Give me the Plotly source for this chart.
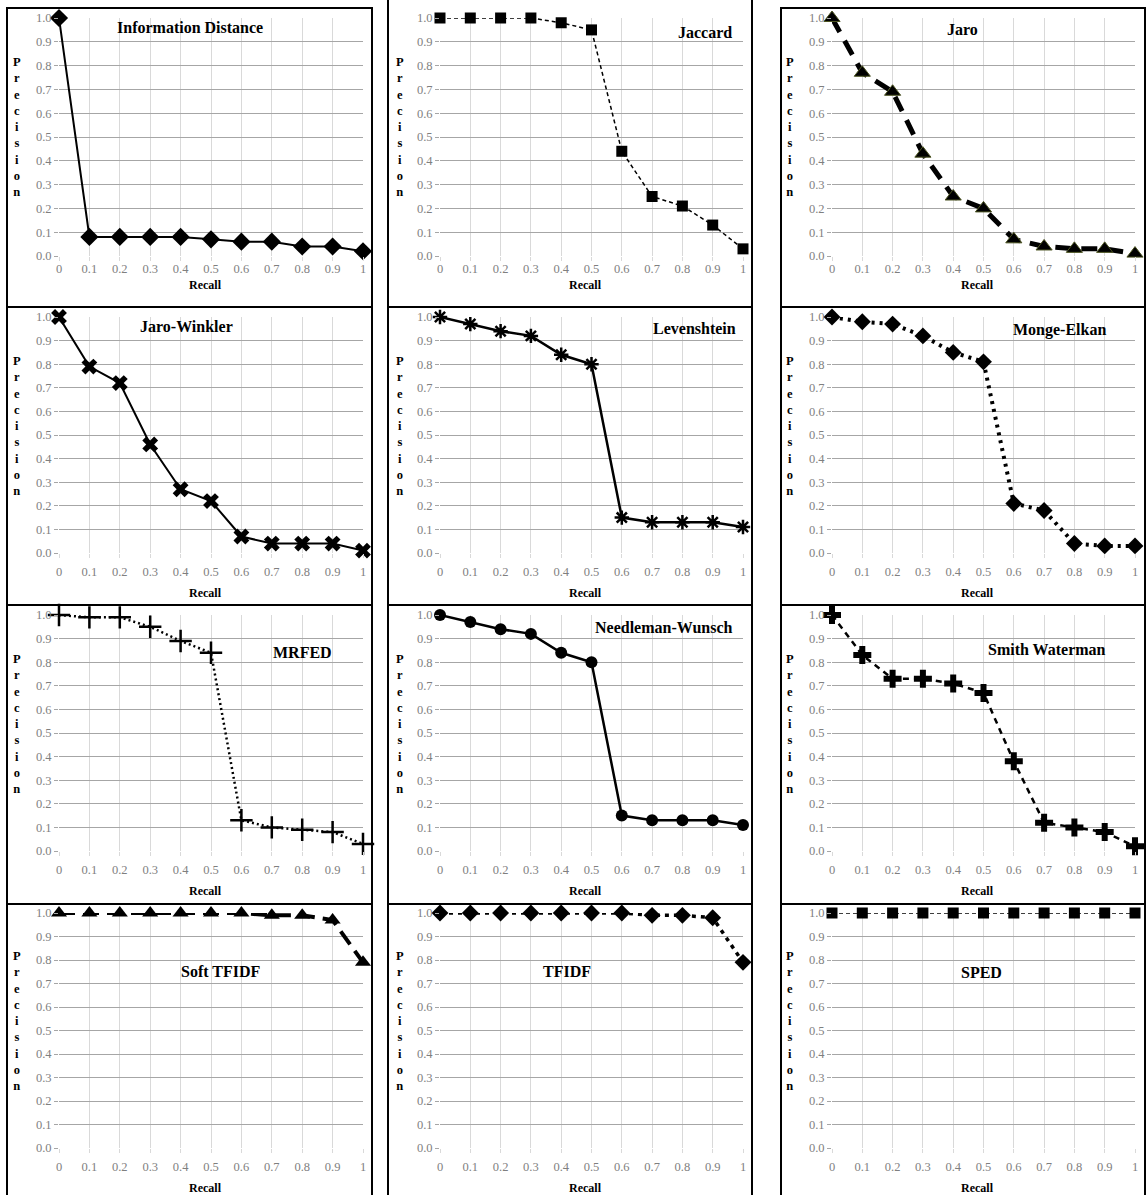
import plotly.graph_objects as go

# ---------------- data ----------------
recall = [0, 0.1, 0.2, 0.3, 0.4, 0.5, 0.6, 0.7, 0.8, 0.9, 1.0]
recall_labels = ["0", "0.1", "0.2", "0.3", "0.4", "0.5", "0.6", "0.7", "0.8", "0.9", "1"]
precision_ticks = [0.0, 0.1, 0.2, 0.3, 0.4, 0.5, 0.6, 0.7, 0.8, 0.9, 1.0]
precision_labels = ["0.0", "0.1", "0.2", "0.3", "0.4", "0.5", "0.6", "0.7", "0.8", "0.9", "1.0"]

titles = ["Information Distance", "Jaccard", "Jaro",
          "Jaro-Winkler", "Levenshtein", "Monge-Elkan",
          "MRFED", "Needleman-Wunsch", "Smith Waterman",
          "Soft TFIDF", "TFIDF", "SPED"]

information_distance = [1.0, 0.08, 0.08, 0.08, 0.08, 0.07, 0.06, 0.06, 0.04, 0.04, 0.02]
jaccard = [1.0, 1.0, 1.0, 1.0, 0.98, 0.95, 0.44, 0.25, 0.21, 0.13, 0.03]
jaro = [1.0, 0.77, 0.69, 0.43, 0.25, 0.20, 0.07, 0.04, 0.03, 0.03, 0.01]
jaro_winkler = [1.0, 0.79, 0.72, 0.46, 0.27, 0.22, 0.07, 0.04, 0.04, 0.04, 0.01]
levenshtein = [1.0, 0.97, 0.94, 0.92, 0.84, 0.80, 0.15, 0.13, 0.13, 0.13, 0.11]
monge_elkan = [1.0, 0.98, 0.97, 0.92, 0.85, 0.81, 0.21, 0.18, 0.04, 0.03, 0.03]
mrfed = [1.0, 0.99, 0.99, 0.95, 0.89, 0.84, 0.13, 0.10, 0.09, 0.08, 0.03]
needleman_wunsch = [1.0, 0.97, 0.94, 0.92, 0.84, 0.80, 0.15, 0.13, 0.13, 0.13, 0.11]
smith_waterman = [1.0, 0.83, 0.73, 0.73, 0.71, 0.67, 0.38, 0.12, 0.10, 0.08, 0.02]
soft_tfidf = [1.0, 1.0, 1.0, 1.0, 1.0, 1.0, 1.0, 0.99, 0.99, 0.97, 0.79]
tfidf = [1.0, 1.0, 1.0, 1.0, 1.0, 1.0, 1.0, 0.99, 0.99, 0.98, 0.79]
sped = [1.0, 1.0, 1.0, 1.0, 1.0, 1.0, 1.0, 1.0, 1.0, 1.0, 1.0]

series = [information_distance, jaccard, jaro, jaro_winkler, levenshtein, monge_elkan,
          mrfed, needleman_wunsch, smith_waterman, soft_tfidf, tfidf, sped]

# ---------------- styles ----------------
styles = [
    dict(symbol="diamond", msize=14, mlw=0, dash="solid", width=2),
    dict(symbol="square", msize=11, mlw=0, dash="4px,3px", width=1.5),
    dict(symbol="triangle-up", msize=14, mlw=1, mlc="#4b5320", dash="16px,10px", width=5),
    dict(symbol="x", msize=14, mlw=0, dash="solid", width=2),
    dict(symbol="asterisk", msize=12, mlw=2.5, dash="solid", width=2.5),
    dict(symbol="diamond", msize=13, mlw=0, dash="3px,5px", width=4),
    dict(symbol="cross-thin", msize=16, mlw=2.5, dash="2px,3px", width=2.5),
    dict(symbol="circle", msize=12, mlw=0, dash="solid", width=2.5),
    dict(symbol="cross", msize=15, mlw=0, dash="6px,5px", width=2.5),
    dict(symbol="triangle-up", msize=14, mlw=0, dash="16px,8px", width=4),
    dict(symbol="diamond", msize=13, mlw=0, dash="4px,5px", width=3.5),
    dict(symbol="square", msize=11, mlw=0, dash="4px,3px", width=1.5),
]

# title positions in data coordinates (x, y)
title_pos = [(0.43, 0.96), (0.875, 0.94), (0.43, 0.95),
             (0.42, 0.96), (0.84, 0.95), (0.75, 0.945),
             (0.80, 0.84), (0.74, 0.945), (0.71, 0.855),
             (0.53, 0.75), (0.42, 0.75), (0.495, 0.745)]

W, H = 1146, 1195
col_px = [(59, 363), (440, 743), (832, 1135)]
row_px = [(18, 256), (317, 553), (615, 851), (913, 1148)]
prec_x_px = [17, 400, 790]
panel_cols = [(7, 372), (388, 752), (781, 1145)]
panel_rows = [(8, 307), (307, 605), (605, 904), (904, 1197)]

def px_x(p):
    return p / W

def px_y(p):
    return 1 - p / H

SERIF = "Liberation Serif, Times New Roman, serif"

fig = go.Figure()
layout = dict(
    width=W, height=H,
    margin=dict(l=0, r=0, t=0, b=0, pad=0, autoexpand=False),
    paper_bgcolor="white", plot_bgcolor="white", showlegend=False,
    annotations=[], shapes=[],
)

for k in range(12):
    r, c = divmod(k, 3)
    s = "" if k == 0 else str(k + 1)
    st = styles[k]
    marker = dict(symbol=st["symbol"], size=st["msize"], color="black",
                  line=dict(width=st["mlw"], color=st.get("mlc", "black")))
    fig.add_trace(go.Scatter(
        x=recall, y=series[k], mode="lines+markers",
        xaxis="x" + s, yaxis="y" + s, cliponaxis=False,
        line=dict(color="black", width=st["width"], dash=st["dash"]),
        marker=marker, name=titles[k],
    ))
    x0, x1 = col_px[c]
    y0, y1 = row_px[r]
    standoff = -3 if r == 0 else 3
    layout["xaxis" + s] = dict(
        domain=[px_x(x0), px_x(x1)], anchor="y" + s, range=[0, 1],
        automargin=False,
        tickmode="array", tickvals=recall, ticktext=recall_labels,
        showgrid=True, gridcolor="#d9d9d9", gridwidth=1,
        showline=False, zeroline=False,
        ticks="outside", ticklen=4, tickcolor="#d9d9d9",
        ticklabelstandoff=standoff,
        tickfont=dict(family=SERIF, size=12.5, color="#7f7f7f"),
    )
    layout["yaxis" + s] = dict(
        domain=[px_y(y1), px_y(y0)], anchor="x" + s, range=[0, 1],
        automargin=False,
        tickmode="array", tickvals=precision_ticks, ticktext=precision_labels,
        showgrid=True, gridcolor="#a6a6a6", gridwidth=1,
        showline=False, zeroline=False,
        ticks="outside", ticklen=4, tickcolor="#a6a6a6",
        tickfont=dict(family=SERIF, size=12.5, color="#7f7f7f"),
    )
    tx, ty = title_pos[k]
    layout["annotations"].append(dict(
        x=tx, y=ty, xref="x" + s, yref="y" + s, text="<b>" + titles[k] + "</b>",
        showarrow=False, font=dict(family=SERIF, size=16, color="black"),
        xanchor="center", yanchor="middle",
    ))
    # Recall label
    recall_y = y1 + (29 if r == 0 else 40)
    layout["annotations"].append(dict(
        x=px_x((x0 + x1) / 2 - 6), y=px_y(recall_y), xref="paper", yref="paper",
        text="<b>Recall</b>", showarrow=False,
        font=dict(family=SERIF, size=12, color="black"),
        xanchor="center", yanchor="middle",
    ))
    # Precision stacked label
    mid = y0 + (y1 - y0) * 0.46
    layout["annotations"].append(dict(
        x=px_x(prec_x_px[c]), y=px_y(mid), xref="paper", yref="paper",
        text="<br>".join("<b>" + ch + "</b>" for ch in "Precision"),
        showarrow=False, font=dict(family=SERIF, size=12.5, color="black"),
        xanchor="center", yanchor="middle",
    ))
    # panel border
    px0, px1 = panel_cols[c]
    py0, py1 = panel_rows[r]
    if r == 0 and c == 1:
        for (ax0, ay0, ax1, ay1) in [(px0, -2, px0, py1), (px1, -2, px1, py1)]:
            layout["shapes"].append(dict(
                type="line", xref="paper", yref="paper",
                x0=px_x(ax0), y0=px_y(ay0), x1=px_x(ax1), y1=px_y(ay1),
                line=dict(color="black", width=2)))
    else:
        layout["shapes"].append(dict(
            type="rect", xref="paper", yref="paper",
            x0=px_x(px0), y0=px_y(py1), x1=px_x(px1), y1=px_y(py0),
            line=dict(color="black", width=2), layer="below"))

fig.update_layout(**layout)
fig.write_html(
    "out.html",
    config={"displayModeBar": False, "staticPlot": True},
    post_script=(
        "document.documentElement.style.margin='0';"
        "document.body.style.margin='0';"
        "document.body.style.overflow='hidden';"
        "var gd=document.getElementById('{plot_id}');"
        "gd.style.position='fixed';gd.style.left='0px';gd.style.top='0px';"
    ),
)
